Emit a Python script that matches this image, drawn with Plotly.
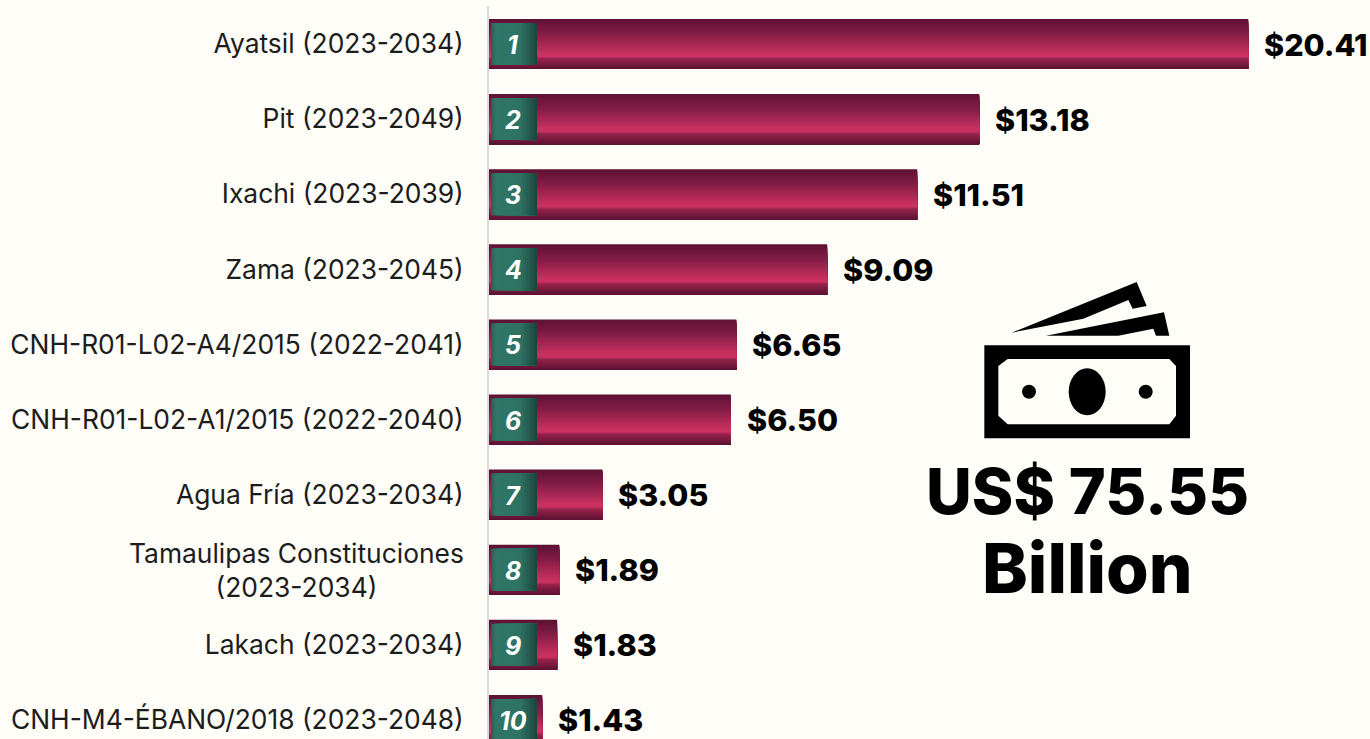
import plotly.graph_objects as go

categories = ["Ayatsil (2023-2034)", "Pit (2023-2049)", "Ixachi (2023-2039)", "Zama (2023-2045)",
              "CNH-R01-L02-A4/2015 (2022-2041)", "CNH-R01-L02-A1/2015 (2022-2040)", "Agua Fría (2023-2034)",
              "Tamaulipas Constituciones<br>(2023-2034)", "Lakach (2023-2034)", "CNH-M4-ÉBANO/2018 (2023-2048)"]
values = [20.41, 13.18, 11.51, 9.09, 6.65, 6.50, 3.05, 1.89, 1.83, 1.43]
value_labels = ["$20.41", "$13.18", "$11.51", "$9.09", "$6.65", "$6.50", "$3.05", "$1.89", "$1.83", "$1.43"]
ranks = ["1", "2", "3", "4", "5", "6", "7", "8", "9", "10"]
total_label = "US$ 75.55"
total_unit = "Billion"

BG = "#FFFDF7"
W, H = 1370, 739
L, T = 489, 6
PX_PER_UNIT = 37.2
ROW = 75.1
FONT = "Inter"
TEXT = "#1c1c1c"
LABEL_SIZE = 26.4
idx = list(range(len(values)))

def lerp(c1, c2, t):
    return "#%02x%02x%02x" % tuple(round(a + (b - a) * t) for a, b in zip(c1, c2))

def ramp(stops, t):
    for (a, ca), (b, cb) in zip(stops, stops[1:]):
        if t <= b:
            return lerp(ca, cb, (t - a) / (b - a))
    return lerp(stops[-1][1], stops[-1][1], 0)

BAR_STOPS = [(0, (94, 18, 52)), (0.3, (132, 30, 70)), (0.7, (202, 49, 96)), (0.76, (202, 49, 96)),
             (0.80, (150, 36, 76)), (1, (96, 18, 52))]
BADGE_STOPS = [(0, (40, 100, 88)), (0.08, (48, 118, 102)), (0.65, (46, 114, 98)), (1, (28, 70, 62))]

fig = go.Figure()
BAR_PX = 50
for k in range(BAR_PX):
    off = (-BAR_PX / 2 + k) / ROW
    fig.add_bar(x=values, y=idx, orientation="h", offset=off, width=(BAR_PX - k) / ROW,
                marker=dict(color=ramp(BAR_STOPS, k / (BAR_PX - 1)), line_width=0), hoverinfo="skip", showlegend=False)

BADGE_H = 42
BADGE_X0 = 2.0 / PX_PER_UNIT
BADGE_STEPS = 23
step = 2.0 / PX_PER_UNIT
for k in range(BADGE_STEPS):
    fig.add_bar(x=[step * (BADGE_STEPS - k)] * len(values), base=[BADGE_X0 + step * k] * len(values), y=idx, orientation="h",
                offset=-BADGE_H / 2 / ROW, width=BADGE_H / ROW,
                marker=dict(color=ramp(BADGE_STOPS, k / (BADGE_STEPS - 1)), line_width=0), hoverinfo="skip", showlegend=False)

ann = []
for i, (v, lab, r, c) in enumerate(zip(values, value_labels, ranks, categories)):
    ann.append(dict(x=v, y=i, text=lab, showarrow=False, xanchor="left", xshift=14, yshift=0,
                    font=dict(family=FONT, size=30.5, color="#000000", weight=800)))
    ann.append(dict(x=24 / PX_PER_UNIT, y=i, text=r, showarrow=False, xanchor="center", yshift=-1,
                    font=dict(family=FONT, size=25, color="#ffffff", weight=700, style="italic")))
    if "<br>" in c:
        ann.append(dict(x=0, y=i, text=c, showarrow=False, xanchor="right", xshift=-23, align="center",
                        font=dict(family=FONT, size=LABEL_SIZE, color=TEXT)))

def px(x):
    return (x - L) / (W - L)

def py(y):
    return (H - y) / (H - T)

ann.append(dict(xref="paper", yref="paper", x=px(1087), y=py(491), xanchor="center", yanchor="middle",
                text=total_label, showarrow=False, font=dict(family=FONT, size=63, color="#000000", weight=800)))
ann.append(dict(xref="paper", yref="paper", x=px(1087), y=py(568), xanchor="center", yanchor="middle",
                text=total_unit, showarrow=False, font=dict(family=FONT, size=69, color="#000000", weight=800)))

def poly(points, color):
    d = "M" + " L".join(f"{px(x):.5f},{py(y):.5f}" for x, y in points) + " Z"
    return dict(type="path", xref="paper", yref="paper", path=d, fillcolor=color, line_width=0, layer="above")

def z(x, y):
    return (960 + x / 3, 270 + y / 3)

def ell(x0, x1, y0, y1):
    return dict(type="circle", xref="paper", yref="paper", x0=px(x0), x1=px(x1), y0=py(y0), y1=py(y1),
                fillcolor="#000000", line_width=0, layer="above")

shapes = [
    poly([z(*p) for p in [(73, 226), (690, 226), (690, 505), (73, 505)]], "#000000"),
    poly([z(*p) for p in [(143, 267), (628, 267), (648, 288), (648, 437), (628, 463), (143, 463), (115, 437), (115, 288)]], BG),
    ell(960 + 326 / 3, 960 + 437 / 3, 270 + 295 / 3, 270 + 436 / 3),
    ell(1022, 1036, 384.7, 398.7),
    ell(1138.7, 1152.7, 384.7, 398.7),
    poly([z(*p) for p in [(155, 188), (530, 36), (560, 108), (518, 116), (505, 90), (370, 146)]], "#000000"),
    poly([z(*p) for p in [(258, 197), (612, 127), (628, 197), (588, 197), (580, 176), (475, 197)]], "#000000"),
]

fig.update_layout(
    width=W, height=H, barmode="overlay", paper_bgcolor=BG, plot_bgcolor=BG, showlegend=False,
    margin=dict(l=L, r=0, t=T, b=0), annotations=ann, shapes=shapes,
    font=dict(family=FONT),
    xaxis=dict(range=[0, (W - L) / PX_PER_UNIT], visible=False, fixedrange=True),
    yaxis=dict(range=[(H - 44) / ROW, (T - 44) / ROW], tickmode="array", tickvals=idx,
               ticktext=["" if "<br>" in c else c for c in categories], showgrid=False, zeroline=False,
               showline=True, linecolor="#D9D9D9", linewidth=2, ticks="", ticklabelstandoff=18,
               tickfont=dict(family=FONT, size=LABEL_SIZE, color=TEXT), fixedrange=True),
)

fig.write_html("out.html", config={"displayModeBar": False},
               post_script="document.body.style.margin='0';document.body.style.overflow='hidden';document.body.style.background='%s';" % BG)
